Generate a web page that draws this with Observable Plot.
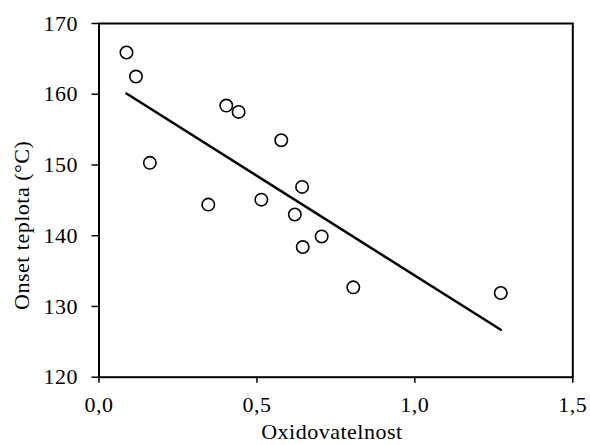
<!DOCTYPE html>
<html>
<head>
<meta charset="utf-8">
<script src="https://cdn.jsdelivr.net/npm/d3@7"></script>
<script src="https://cdn.jsdelivr.net/npm/@observablehq/plot@0.6"></script>
<style>
  html, body { margin: 0; padding: 0; background: #fff; }
</style>
</head>
<body>
<div id="chart"></div>
<script>
// Data
const oxidovatelnost = [0.087, 0.117, 0.161, 0.403, 0.442, 0.577, 0.643, 0.346, 0.514, 0.620, 0.705, 0.645, 0.805, 1.272];
const onsetTeplota   = [165.9, 162.5, 150.3, 158.4, 157.5, 153.5, 146.9, 144.4, 145.1, 143.0, 139.9, 138.4, 132.7, 131.9];
// Trend line endpoints
const trendX = [0.087, 1.272];
const trendY = [160.1, 126.7];
const xTicks = [0, 0.5, 1.0, 1.5];
const yTicks = [120, 130, 140, 150, 160, 170];
const xTitle = "Oxidovatelnost";
const yTitle = "Onset teplota (°C)";

const points = oxidovatelnost.map((x, i) => ({x, y: onsetTeplota[i]}));
const trend = trendX.map((x, i) => ({x, y: trendY[i]}));
const fmt = d => d.toFixed(1).replace(".", ",");

const chart = Plot.plot({
  width: 590,
  height: 445,
  marginLeft: 98.5,
  marginRight: 17.7,
  marginTop: 23,
  marginBottom: 68.3,
  style: {fontFamily: "'Liberation Serif', 'Times New Roman', serif", fontSize: "22px", letterSpacing: "0.5px", color: "#000", background: "#fff"},
  x: {domain: [0, 1.5]},
  y: {domain: [120, 170]},
  marks: [
    Plot.axisX({ticks: xTicks, tickFormat: fmt, tickSize: 6, tickPadding: 13, strokeWidth: 1.5, label: null, fill: "#000", fontSize: 22}),
    Plot.axisY({ticks: yTicks, tickSize: 7, tickPadding: 14, strokeWidth: 1.5, label: null, fill: "#000", fontSize: 22}),
    Plot.frame({stroke: "#000", strokeWidth: 2}),
    Plot.line(trend, {x: "x", y: "y", stroke: "#000", strokeWidth: 2.5}),
    Plot.dot(points, {x: "x", y: "y", r: 6.2, stroke: "#000", strokeWidth: 1.6, fill: "#fff"}),
    Plot.text([xTitle], {frameAnchor: "bottom", textAnchor: "middle", lineAnchor: "middle", dx: -4, dy: 55, fill: "#000", fontSize: 22}),
    Plot.text([yTitle], {frameAnchor: "left", textAnchor: "middle", lineAnchor: "middle", rotate: -90, dx: -77, dy: 25, fill: "#000", fontSize: 22})
  ]
});
document.getElementById("chart").appendChild(chart);
</script>
</body>
</html>
